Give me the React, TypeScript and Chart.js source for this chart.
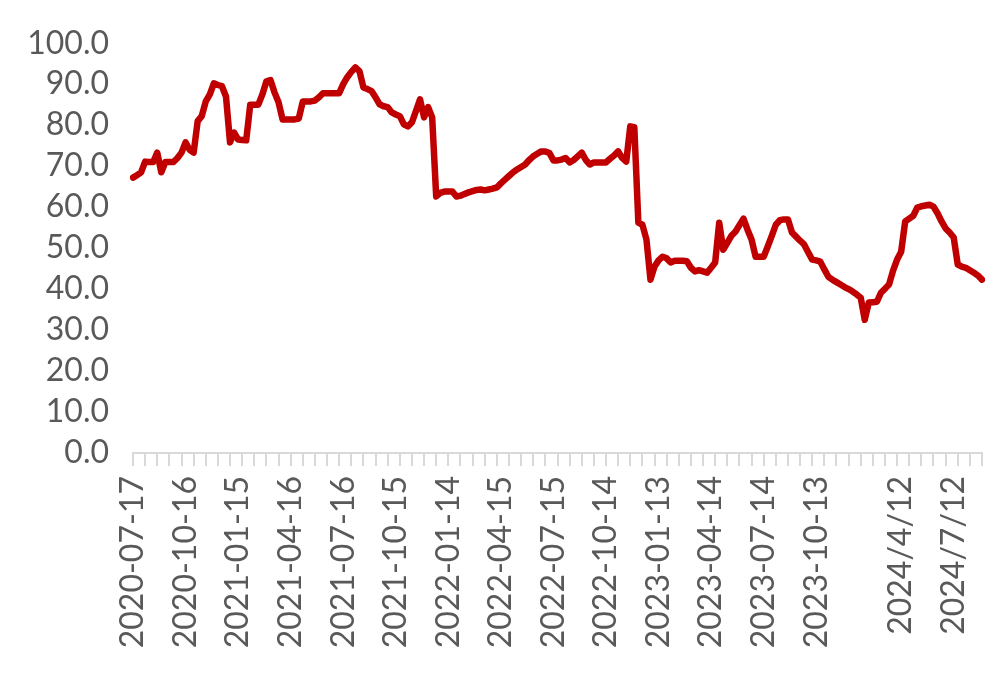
import { useEffect, useRef } from 'react';
import { Chart, registerables } from 'chart.js';

Chart.register(...registerables);

// Weekly observations (Fridays) starting at 2020-07-17; 5 weeks are absent in early 2024.
const START_DATE = '2020-07-17';
const GAP_FROM_INDEX = 178;
const GAP_WEEKS = 5;

const SHOWN_LABELS = [
  '2020-07-17', '2020-10-16', '2021-01-15', '2021-04-16', '2021-07-16', '2021-10-15',
  '2022-01-14', '2022-04-15', '2022-07-15', '2022-10-14', '2023-01-13', '2023-04-14',
  '2023-07-14', '2023-10-13', '2024/4/12', '2024/7/12',
];

const Y_TICKS = [0, 10, 20, 30, 40, 50, 60, 70, 80, 90, 100];

const VALUES = [
  67.2, 67.8, 68.5, 71.1, 71.0, 71.0, 73.3, 68.5, 71.0, 71.0,
  71.0, 72.0, 73.3, 75.8, 74.0, 73.3, 81.0, 82.2, 85.8, 87.5,
  90.2, 89.8, 89.5, 87.0, 75.8, 78.2, 76.5, 76.4, 76.3, 85.0,
  85.0, 85.0, 87.5, 90.7, 91.0, 88.0, 85.6, 81.4, 81.4, 81.4,
  81.4, 81.6, 85.8, 85.8, 85.8, 86.0, 86.8, 87.8, 87.8, 87.8,
  87.8, 87.8, 90.0, 91.7, 93.0, 94.1, 93.2, 89.2, 88.8, 88.3,
  86.8, 85.1, 84.6, 84.4, 83.1, 82.6, 82.2, 80.2, 79.7, 80.7,
  83.5, 86.3, 81.9, 84.4, 81.9, 62.6, 63.5, 63.8, 63.8, 63.8,
  62.6, 62.8, 63.2, 63.6, 63.9, 64.2, 64.3, 64.1, 64.3, 64.5,
  64.8, 65.8, 66.7, 67.6, 68.5, 69.2, 69.8, 70.4, 71.5, 72.4,
  73.0, 73.6, 73.6, 73.2, 71.4, 71.4, 71.6, 72.0, 70.9, 71.5,
  72.4, 73.3, 71.5, 70.4, 70.9, 70.9, 70.9, 70.9, 71.8, 72.6,
  73.6, 72.0, 71.1, 79.7, 79.5, 56.2, 55.7, 52.1, 42.3, 45.5,
  47.0, 47.9, 47.5, 46.5, 46.9, 46.9, 46.9, 46.8, 45.2, 44.3,
  44.6, 44.3, 44.0, 45.2, 46.5, 56.2, 49.6, 51.3, 53.0, 54.0,
  55.6, 57.2, 54.5, 52.1, 47.9, 47.9, 47.9, 50.4, 53.0, 55.7,
  56.8, 57.0, 57.0, 53.8, 52.8, 51.8, 50.9, 49.0, 47.2, 47.0,
  46.7, 44.8, 43.0, 42.3, 41.7, 41.1, 40.5, 40.0, 39.4, 38.7,
  37.9, 32.5, 36.7, 36.8, 36.9, 39.1, 40.1, 41.1, 44.5, 47.2,
  49.1, 56.5, 57.2, 57.9, 59.9, 60.2, 60.4, 60.6, 60.1, 58.5,
  56.5, 54.8, 53.8, 52.6, 46.0, 45.5, 45.2, 44.6, 44.0, 43.3,
  42.3,
];

function buildCategories(count: number): string[] {
  const base = new Date(START_DATE + 'T00:00:00Z').getTime();
  const out: string[] = [];
  for (let i = 0; i < count; i++) {
    const weeks = i + (i >= GAP_FROM_INDEX ? GAP_WEEKS : 0);
    const d = new Date(base + weeks * 7 * 86400000);
    const y = d.getUTCFullYear();
    const m = d.getUTCMonth() + 1;
    const day = d.getUTCDate();
    if (y >= 2024) out.push(`${y}/${m}/${day}`);
    else out.push(`${y}-${String(m).padStart(2, '0')}-${String(day).padStart(2, '0')}`);
  }
  return out;
}

const CATEGORIES = buildCategories(VALUES.length);

const FONT_FAMILY = 'Lato, "Open Sans", "Noto Sans", sans-serif';
const TEXT_COLOR = '#595959';
const AXIS_COLOR = '#d9d9d9';

export default function App() {
  const canvasRef = useRef<HTMLCanvasElement | null>(null);

  useEffect(() => {
    if (!canvasRef.current) return;
    const chart = new Chart(canvasRef.current, {
      type: 'line',
      data: {
        labels: CATEGORIES,
        datasets: [
          {
            data: VALUES,
            borderColor: '#c00000',
            backgroundColor: '#c00000',
            borderWidth: 6.5,
            pointRadius: 0,
            tension: 0,
            borderJoinStyle: 'round',
            borderCapStyle: 'round',
          },
        ],
      },
      options: {
        animation: false,
        responsive: true,
        maintainAspectRatio: false,
        layout: { padding: { top: 30, right: 4, left: 0, bottom: 0 } },
        plugins: { legend: { display: false }, tooltip: { enabled: false } },
        scales: {
          x: {
            type: 'category',
            offset: false,
            border: { display: true, color: AXIS_COLOR, width: 2 },
            grid: {
              display: true,
              drawOnChartArea: false,
              drawTicks: true,
              tickLength: 13,
              lineWidth: 2,
              color: (ctx: any) => (ctx.index % 3 === 0 ? AXIS_COLOR : 'rgba(0,0,0,0)'),
            },
            ticks: {
              autoSkip: false,
              minRotation: 90,
              maxRotation: 90,
              padding: 10,
              color: TEXT_COLOR,
              font: { family: FONT_FAMILY, size: 32 },
              callback: function (this: any, value: any) {
                const lab = this.getLabelForValue(value);
                return SHOWN_LABELS.includes(lab) ? lab : '';
              },
            },
            afterFit: (scale: any) => {
              scale.paddingRight = 0;
              scale.paddingLeft = 0;
              scale.height = 220;
            },
          },
          y: {
            min: 0,
            max: 100,
            afterBuildTicks: (scale: any) => {
              scale.ticks = Y_TICKS.map((v) => ({ value: v }));
            },
            border: { display: false },
            grid: { display: false },
            ticks: {
              autoSkip: false,
              padding: 16,
              color: TEXT_COLOR,
              font: { family: FONT_FAMILY, size: 32 },
              callback: (v: any) => Number(v).toFixed(1),
            },
            afterFit: (scale: any) => {
              scale.width = 125;
            },
          },
        },
      },
    });
    return () => chart.destroy();
  }, []);

  return (
    <div style={{ position: 'relative', width: '100%', height: 665 }}>
      <canvas ref={canvasRef} />
    </div>
  );
}
